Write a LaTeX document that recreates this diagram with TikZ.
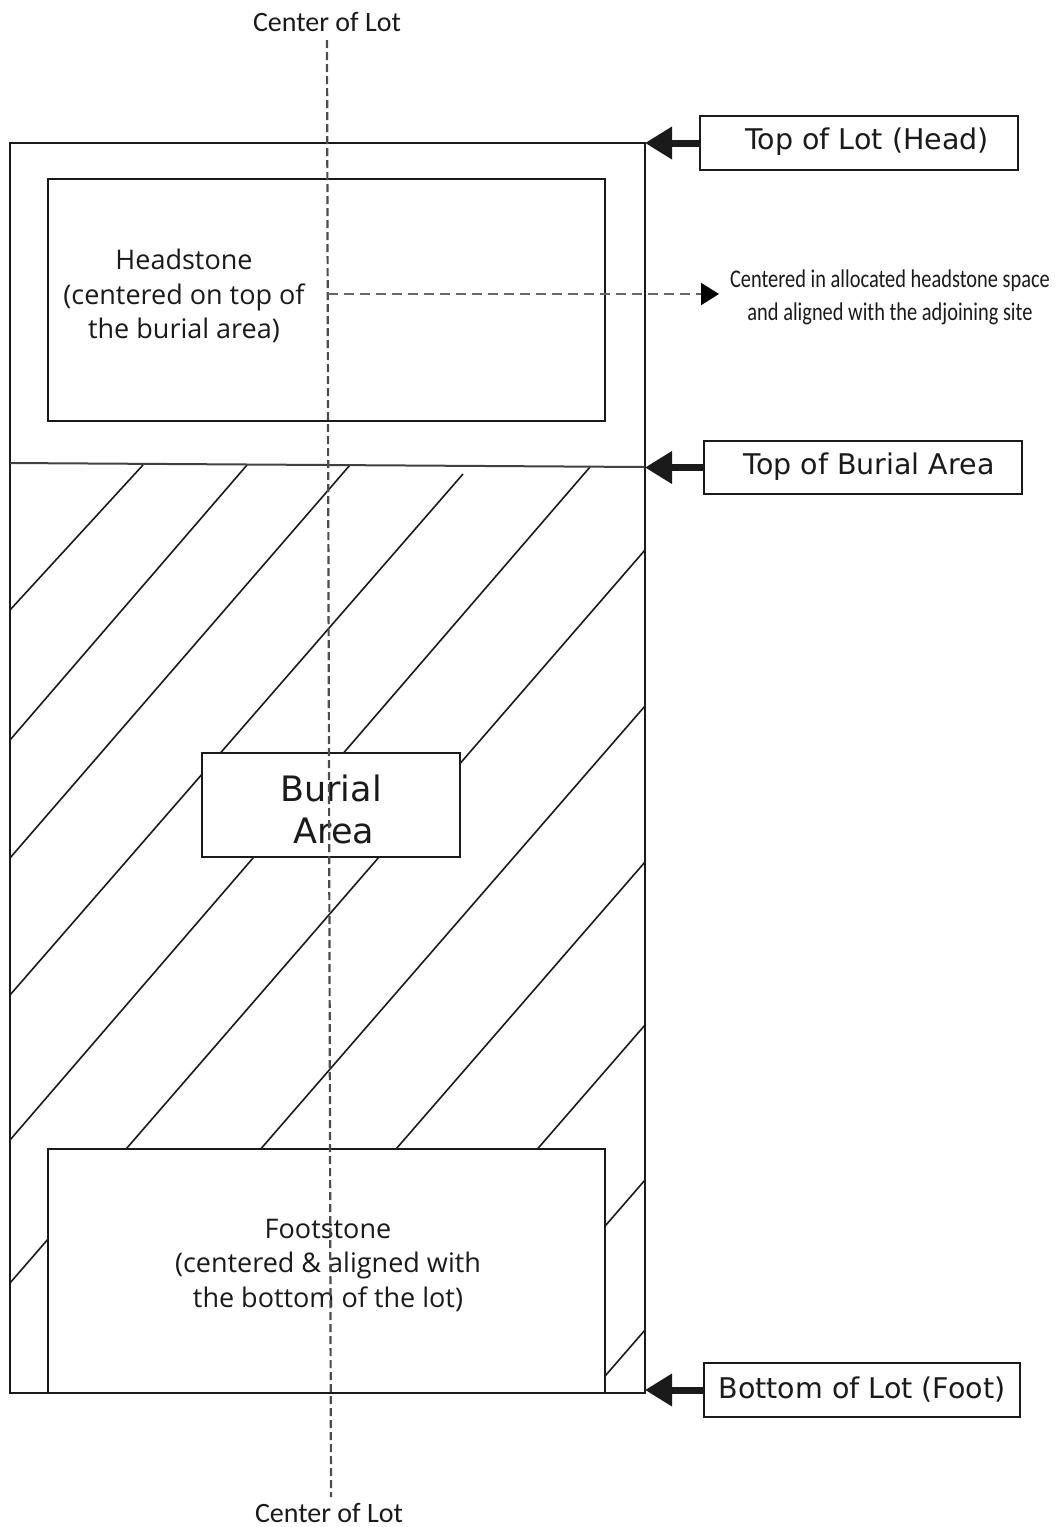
\documentclass[tikz,border=0pt]{standalone}
\usepackage{fontspec}
\usetikzlibrary{arrows.meta,calc}
\newfontfamily\dvfont{DejaVu Sans}
\newfontfamily\osfont{Open Sans}
\newfontfamily\cbfont{Carlito}
\newfontfamily\cbcond[FakeStretch=0.8]{Carlito}
\definecolor{ink}{HTML}{1A1A1A}
\tikzset{
  box/.style={draw=ink, line width=1.8pt, fill=white, inner sep=0pt, outer sep=0pt, anchor=north west},
  lbl/.style={text=ink, inner sep=0pt, align=center},
  hatch/.style={draw=ink, line width=1.6pt},
  bigarrow/.style={draw=ink, line width=7pt, -{Triangle[length=27pt,width=31pt]}},
  centerline/.style={draw=black!70, line width=2.2pt, dash pattern=on 8pt off 4pt},
  dasharrow/.style={draw=black!60, line width=2.2pt, dash pattern=on 10pt off 6pt, -{Triangle[length=18pt,width=22pt,color=black]}}
}
\begin{document}
\begin{tikzpicture}[x=1pt,y=-1pt]
\useasboundingbox (0,0) rectangle (1058,1527);
% hatch lines of burial area
\begin{scope}
\clip (10,465) rectangle (645,1393);
\draw[hatch] (143,465) -- (10,610);
\draw[hatch] (247,465) -- (10,740);
\draw[hatch] (350,465) -- (10,858);
\draw[hatch] (463,474) -- (10,995);
\draw[hatch] (590,467) -- (10,1140);
\draw[hatch] (645,550) -- (10,1283);
\draw[hatch] (645,706) -- (10,1438);
\draw[hatch] (645,862) -- (10,1594);
\draw[hatch] (645,1025) -- (10,1757);
\draw[hatch] (645,1180) -- (10,1912);
\draw[hatch] (645,1330) -- (10,2062);
\end{scope}
% lot
\node[box, fill=none, minimum width=635pt, minimum height=1250pt] (lot) at (10,143) {};
\coordinate (bl1) at (10,463);
\coordinate (bl2) at (645,467);
\draw[draw=black!75, line width=2pt] (bl1) -- (bl2);
% headstone
\node[box, minimum width=557pt, minimum height=242pt] (head) at (48,179) {};
\node[lbl, font=\osfont\fontsize{27}{34.5}\selectfont] (headtxt) at (184,296) {Headstone\\(centered on top of\\the burial area)};
% burial area box
\node[box, minimum width=258pt, minimum height=104pt] (burial) at (202,753) {};
\node[lbl, font=\dvfont\fontsize{35}{42}\selectfont] (burialtxt) at (331,809) {Burial\\\hspace*{6pt}Area};
% footstone
\node[box, minimum width=557pt, minimum height=244pt] (foot) at (48,1149) {};
\node[lbl, font=\osfont\fontsize{27}{34.5}\selectfont] (foottxt) at (328,1265) {Footstone\\(centered \& aligned with\\the bottom of the lot)};
% center line
\node[lbl, font=\cbfont\fontsize{28}{30}\selectfont] (ctop) at (327,22) {Center of Lot};
\node[lbl, font=\cbfont\fontsize{28}{30}\selectfont] (cbot) at (329,1513) {Center of Lot};
\coordinate (cl1) at (327,40);
\coordinate (cl2) at (331,1497);
\draw[centerline] (cl1) -- (cl2);
% right labels
\node[box, minimum width=318pt, minimum height=54pt] (toplot) at (700,116) {};
\node[lbl, font=\dvfont\fontsize{28.5}{30}\selectfont] (toplottxt) at (867,142) {Top of Lot (Head)};
\node[box, minimum width=318pt, minimum height=53pt] (topbur) at (704,441) {};
\node[lbl, font=\dvfont\fontsize{28.5}{30}\selectfont] (topburtxt) at (869,467) {Top of Burial Area};
\node[box, minimum width=316pt, minimum height=54pt] (botlot) at (704,1363) {};
\node[lbl, font=\dvfont\fontsize{28.5}{30}\selectfont] (botlottxt) at (862,1390) {Bottom of Lot (Foot)};
\draw[bigarrow] (toplot.west) -- (toplot.west -| lot.east);
\draw[bigarrow] (topbur.west) -- (topbur.west -| lot.east);
\draw[bigarrow] (botlot.west) -- (botlot.west -| lot.east);
% headstone note
\node[lbl, font=\cbcond\fontsize{25.5}{33}\selectfont] (note) at (890,297) {Centered in allocated headstone space\\and aligned with the adjoining site};
\coordinate (hs1) at (328,294);
\coordinate (hs2) at (719,294);
\draw[dasharrow] (hs1) -- (hs2);
\end{tikzpicture}
\end{document}
